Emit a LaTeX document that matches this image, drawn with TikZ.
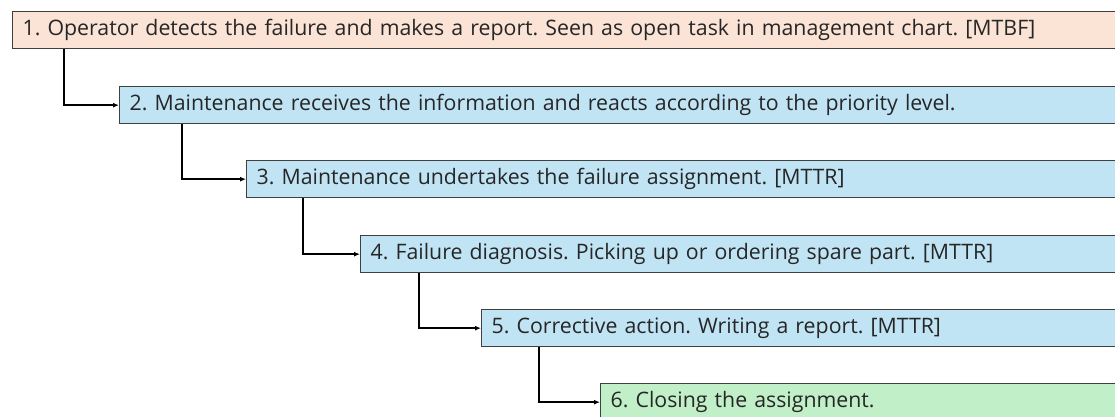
\documentclass[tikz,border=0pt]{standalone}
\usepackage{fontspec}
\setmainfont{Open Sans}
\usetikzlibrary{arrows.meta}
\definecolor{peach}{HTML}{FBE3D6}
\definecolor{skyfill}{HTML}{C1E4F5}
\definecolor{mint}{HTML}{C1F0C8}
\definecolor{edge}{HTML}{404040}
\tikzset{
  stagebox/.style={draw=edge, line width=1.3pt, anchor=north west, minimum height=37pt,
    inner xsep=10pt, inner ysep=0pt, align=left, text=black!85,
    font=\fontsize{21.3pt}{24pt}\selectfont\frenchspacing},
  flow/.style={line width=1.4pt, -{Latex[length=6pt,width=5pt]}}
}
\begin{document}
\begin{tikzpicture}[x=1pt,y=-1pt]
\useasboundingbox (0,0) rectangle (1115,417);
\clip (0,0) rectangle (1115,417);
\node[stagebox, fill=peach, text width=1110pt] (s1) at (12,11)
  {1. Operator detects the failure and makes a report. Seen as open task in management chart. [MTBF]};
\node[stagebox, fill=skyfill, text width=1000pt] (s2) at (119,86)
  {2. Maintenance receives the information and reacts according to the priority level.};
\node[stagebox, fill=skyfill, text width=880pt] (s3) at (246,160)
  {3. Maintenance undertakes the failure assignment. [MTTR]};
\node[stagebox, fill=skyfill, text width=760pt] (s4) at (360,235)
  {4. Failure diagnosis. Picking up or ordering spare part. [MTTR]};
\node[stagebox, fill=skyfill, text width=640pt] (s5) at (481,309)
  {5. Corrective action. Writing a report. [MTTR]};
\node[stagebox, fill=mint, text width=520pt] (s6) at (600,383)
  {6. Closing the assignment.};
\draw[flow] ([xshift=52pt]s1.south west) |- (s2.west);
\draw[flow] ([xshift=63pt]s2.south west) |- (s3.west);
\draw[flow] ([xshift=57pt]s3.south west) |- (s4.west);
\draw[flow] ([xshift=59pt]s4.south west) |- (s5.west);
\draw[flow] ([xshift=58pt]s5.south west) |- (s6.west);
\end{tikzpicture}
\end{document}
